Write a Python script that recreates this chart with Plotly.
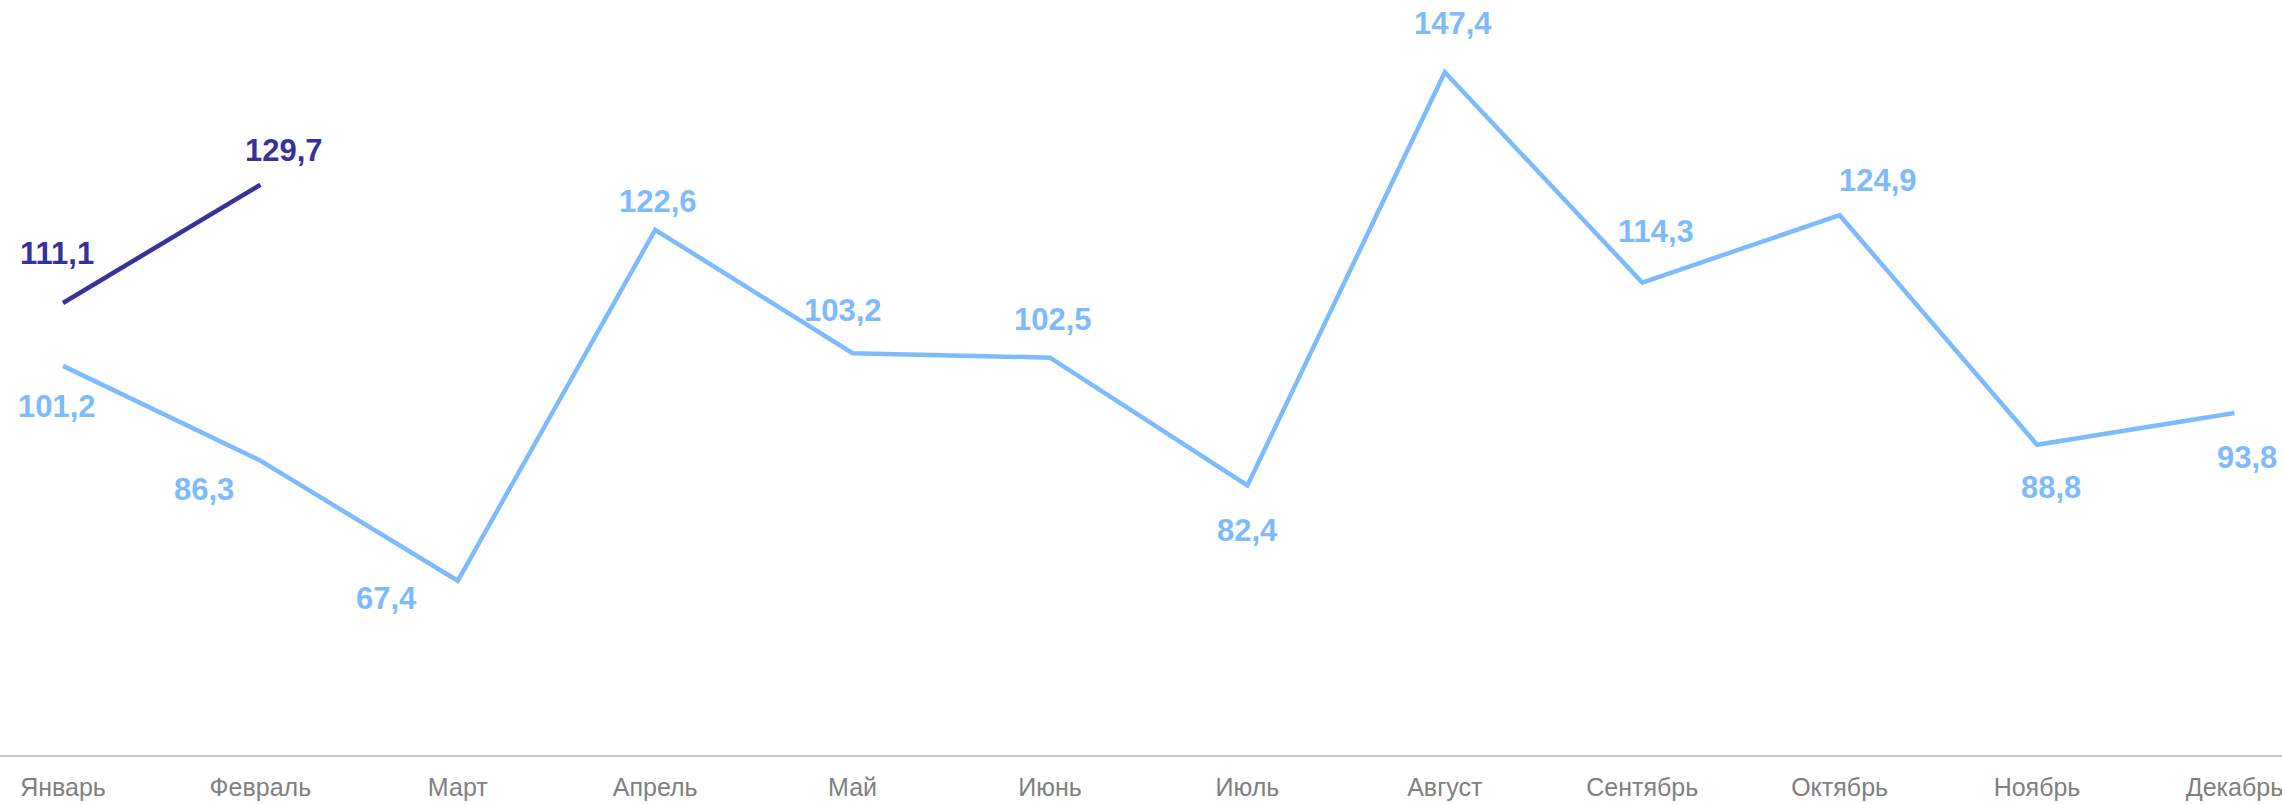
import plotly.graph_objects as go

# ---- data ----
months = ["Январь", "Февраль", "Март", "Апрель", "Май", "Июнь",
          "Июль", "Август", "Сентябрь", "Октябрь", "Ноябрь", "Декабрь"]
series_prev = [101.2, 86.3, 67.4, 122.6, 103.2, 102.5, 82.4, 147.4, 114.3, 124.9, 88.8, 93.8]
series_curr_months = ["Январь", "Февраль"]
series_curr = [111.1, 129.7]

# ---- styling / label placement (pixel offsets of value labels: dx, dy-down) ----
LIGHT = "#7dbbfd"
DARK = "#37319a"
prev_label_offsets = [(-6, 41), (-56, 29), (-71, 18), (3, -28), (-10, -43), (3, -38),
                      (0, 45), (8, -49), (14, -51), (38, -35), (14, 43), (13, 45)]
curr_label_offsets = [(-6, -49), (24, -34)]
LABEL_FONT = dict(family="Liberation Sans, Arial, sans-serif", size=31)


def fmt(v):
    return f"{v:.1f}".replace(".", ",")


fig = go.Figure()
fig.add_trace(go.Scatter(x=months, y=series_prev, mode="lines",
                         line=dict(color=LIGHT, width=4.5), hoverinfo="skip",
                         showlegend=False))
fig.add_trace(go.Scatter(x=series_curr_months, y=series_curr, mode="lines",
                         line=dict(color=DARK, width=4.5), hoverinfo="skip",
                         showlegend=False))

annotations = []
for m, v, (dx, dy) in zip(months, series_prev, prev_label_offsets):
    annotations.append(dict(x=m, y=v, xref="x", yref="y", text="<b>" + fmt(v) + "</b>",
                            showarrow=False, xanchor="center", yanchor="middle",
                            xshift=dx, yshift=-dy,
                            font=dict(color=LIGHT, **LABEL_FONT)))
for m, v, (dx, dy) in zip(series_curr_months, series_curr, curr_label_offsets):
    annotations.append(dict(x=m, y=v, xref="x", yref="y", text="<b>" + fmt(v) + "</b>",
                            showarrow=False, xanchor="center", yanchor="middle",
                            xshift=dx, yshift=-dy,
                            font=dict(color=DARK, **LABEL_FONT)))

fig.update_layout(
    width=2282, height=804,
    margin=dict(l=0, r=0, t=0, b=49),
    paper_bgcolor="white", plot_bgcolor="white",
    annotations=annotations,
    xaxis=dict(type="category", categoryorder="array", categoryarray=months,
               range=[-0.319, 11.241], showgrid=False, zeroline=False,
               showline=True, linecolor="#c8c8c8", linewidth=2,
               ticks="", ticklabelstandoff=9,
               tickfont=dict(family="Liberation Sans, Arial, sans-serif", size=25, color="#808080")),
    yaxis=dict(range=[40, 158.75], visible=False, showgrid=False, zeroline=False),
)

fig.write_html("out.html", config={"displayModeBar": False},
               post_script="document.body.style.margin='0px';")
